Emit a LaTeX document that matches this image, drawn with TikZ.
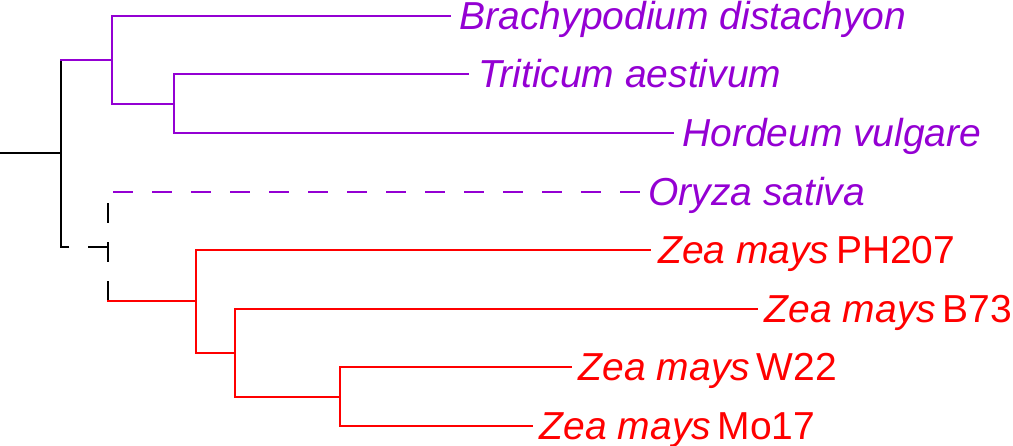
\documentclass[tikz,border=0pt]{standalone}
\usepackage{fontspec}
\setmainfont{Liberation Sans}
\definecolor{cpurple}{RGB}{148,0,211}
\definecolor{cred}{RGB}{255,0,0}
\newcommand{\zm}[1]{\textit{Zea mays}\kern0.17em #1}
\tikzset{
  br/.style={line width=2pt, line cap=rect},
  dbr/.style={line width=2pt, dash pattern=on 20pt off 19pt},
  lab/.style={anchor=base west, inner sep=0pt, font=\fontsize{39}{46}\selectfont},
}
\begin{document}
\begin{tikzpicture}[x=1pt,y=-1pt]
\useasboundingbox (0,0) rectangle (1013,446);
% internal nodes
\coordinate (root) at (0,153.3);
\coordinate (n0) at (61,153.3);
\coordinate (nP) at (112.3,59.8);
\coordinate (nTH) at (174.3,103.7);
\coordinate (nB) at (108.3,246.7);
\coordinate (nBtop) at (108.3,191.7);
\coordinate (nZ) at (196,301);
\coordinate (nZ2) at (235.3,352.7);
\coordinate (nZ3) at (340,396.7);
% leaves
\coordinate (lBra) at (449.5,15.7);
\coordinate (lTri) at (468.4,73.8);
\coordinate (lHor) at (673,133.3);
\coordinate (lOry) at (640,191.7);
\coordinate (lPH) at (650,250);
\coordinate (lB73) at (756.7,308.7);
\coordinate (lW22) at (570.7,367.2);
\coordinate (lMo) at (531.7,425.7);
% labels
\node[lab, text=cpurple] (tBra) at ([xshift=10pt,yshift=-13.5pt]lBra) {\textit{Brachypodium distachyon}};
\node[lab, text=cpurple] (tTri) at ([xshift=10pt,yshift=-13.5pt]lTri) {\textit{Triticum aestivum}};
\node[lab, text=cpurple] (tHor) at ([xshift=9pt,yshift=-13.5pt]lHor) {\textit{Hordeum vulgare}};
\node[lab, text=cpurple] (tOry) at ([xshift=8pt,yshift=-13.5pt]lOry) {\textit{Oryza sativa}};
\node[lab, text=cred] (tPH) at ([xshift=8pt,yshift=-13.5pt]lPH) {\zm{PH207}};
\node[lab, text=cred] (tB73) at ([xshift=8pt,yshift=-13.5pt]lB73) {\zm{B73}};
\node[lab, text=cred] (tW22) at ([xshift=8pt,yshift=-13.5pt]lW22) {\zm{W22}};
\node[lab, text=cred] (tMo) at ([xshift=8pt,yshift=-13.5pt]lMo) {\zm{Mo17}};
% root
\draw[br, black] (root) -- (n0);
\draw[br, black] (n0 |- nP) -- (n0 |- nB);
% purple clade
\draw[br, cpurple] (n0 |- nP) -- (nP);
\draw[br, cpurple] (nP) |- (lBra);
\draw[br, cpurple] (nP) |- (nTH);
\draw[br, cpurple] (nTH) |- (lTri);
\draw[br, cpurple] (nTH) |- (lHor);
% dashed part
\draw[dbr, black] (nB) -- (n0 |- nB);
\draw[dbr, black] (nZ -| nB) -- (nBtop);
\draw[dbr, cpurple, dash phase=34pt] (nBtop) -- (lOry);
% red clade
\draw[br, cred] (nZ -| nB) -- (nZ);
\draw[br, cred] (nZ) |- (lPH);
\draw[br, cred] (nZ) |- (nZ2);
\draw[br, cred] (nZ2) |- (lB73);
\draw[br, cred] (nZ2) |- (nZ3);
\draw[br, cred] (nZ3) |- (lW22);
\draw[br, cred] (nZ3) |- (lMo);
\end{tikzpicture}
\end{document}
